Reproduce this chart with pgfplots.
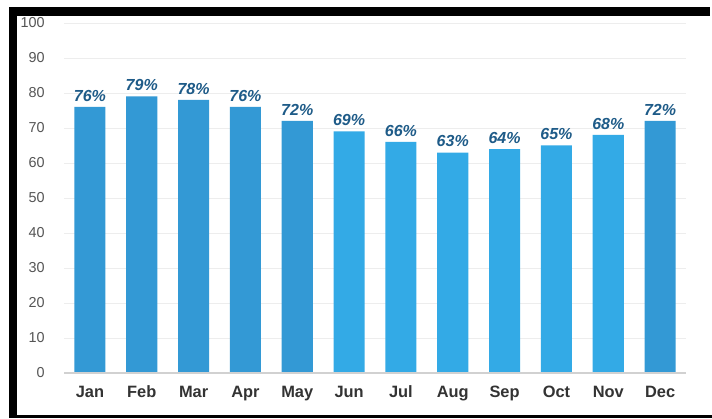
\documentclass[border=0pt]{standalone}
\usepackage{pgfplots}
\pgfplotsset{compat=1.18}
\usepackage{fontspec}
\setmainfont{Liberation Sans}
\definecolor{bardark}{HTML}{3399D5}
\definecolor{barlight}{HTML}{33AAE6}
\definecolor{lbl}{HTML}{1E5B88}
\definecolor{tickgray}{HTML}{555555}
\definecolor{monthgray}{HTML}{333333}
\begin{document}
\begin{tikzpicture}
\path[use as bounding box] (0pt,0pt) rectangle (534pt,313.5pt);
\fill[white] (0pt,0pt) rectangle (534pt,313.5pt);
\fill[black] (6.75pt,0pt) rectangle (12.75pt,308.25pt);
\fill[black] (6.75pt,301.5pt) rectangle (532.5pt,308.25pt);
\fill[black] (6.75pt,0pt) rectangle (534pt,2.25pt);
\begin{axis}[
  at={(48pt,33.75pt)}, anchor=south west,
  scale only axis, width=466.5pt, height=262.5pt,
  xmin=-0.5, xmax=11.5, ymin=0, ymax=100,
  axis line style={draw=none},
  tick style={draw=none},
  ymajorgrids, grid style={color=black!7, line width=0.6pt},
  ytick={0,10,...,100},
  xtick={0,...,11},
  xticklabels={Jan,Feb,Mar,Apr,May,Jun,Jul,Aug,Sep,Oct,Nov,Dec},
  major tick length=0pt,
  /pgf/number format/assume math mode=true,
  yticklabel style={font=\fontsize{10.8}{12}\selectfont, text=tickgray, anchor=east, xshift=-11pt},
  xticklabel style={font=\bfseries\fontsize{12.3}{14}\selectfont, text=monthgray, anchor=base, yshift=-18pt},
  ybar, bar width=0.6, bar shift=0pt,
  nodes near coords={\pgfmathprintnumber{\pgfplotspointmeta}\%},
  every node near coord/.append style={font=\bfseries\itshape\fontsize{12}{14}\selectfont, text=lbl, anchor=south, yshift=0.5pt},
  clip=false,
]
\addplot[draw=none, fill=bardark] coordinates {(0,76) (1,79) (2,78) (3,76) (4,72) (11,72)};
\addplot[draw=none, fill=barlight] coordinates {(5,69) (6,66) (7,63) (8,64) (9,65) (10,68)};
\draw[color=black!18, line width=0.8pt] (rel axis cs:0,0) -- (rel axis cs:1,0);
\end{axis}
\end{tikzpicture}
\end{document}
